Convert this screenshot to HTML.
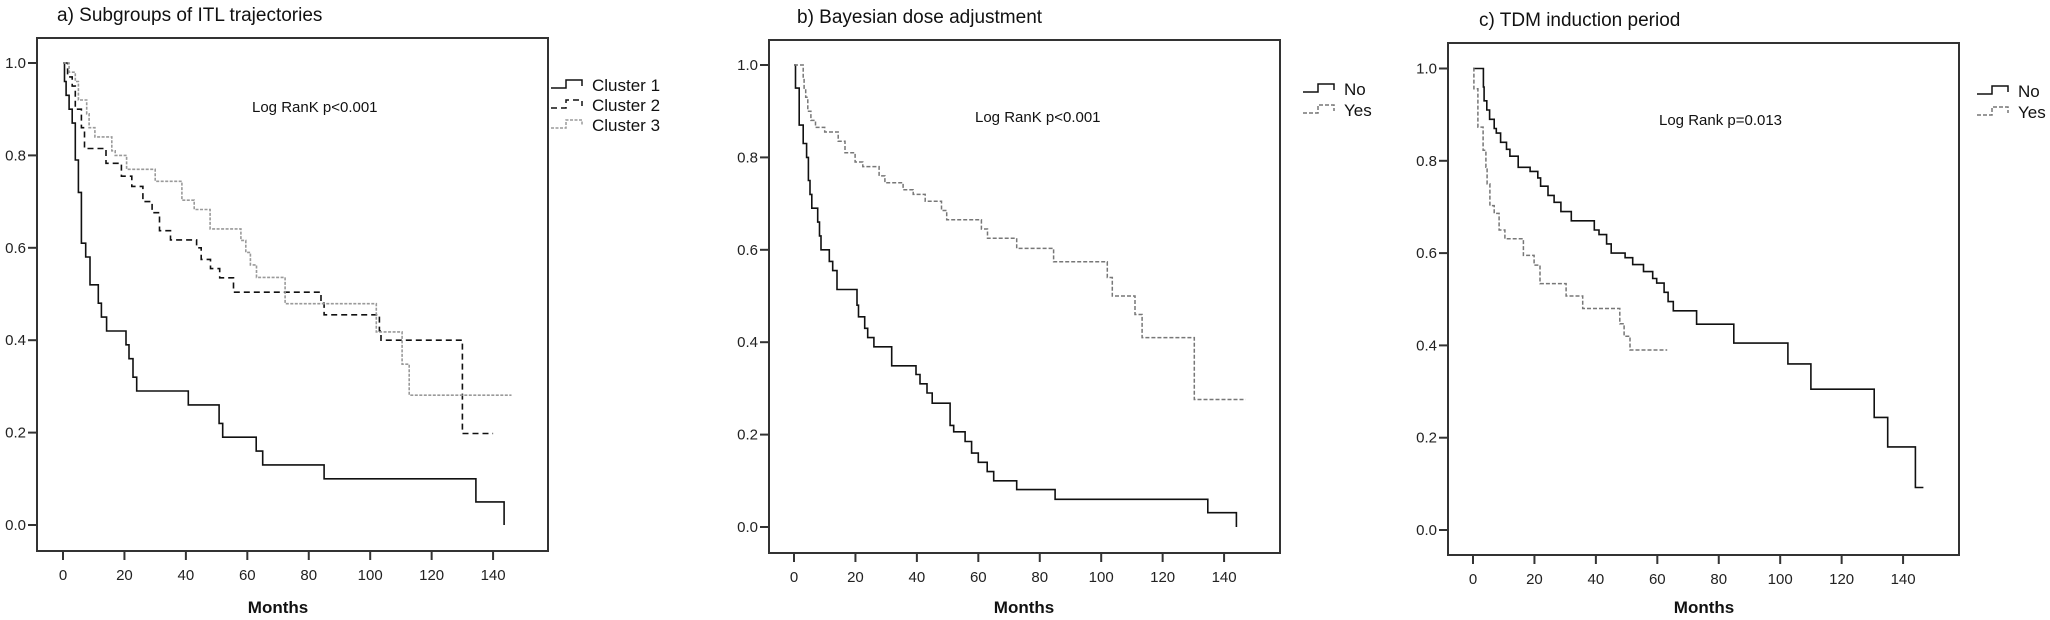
<!DOCTYPE html>
<html><head><meta charset="utf-8"><style>
html,body{margin:0;padding:0;background:#fff;}
svg{display:block;font-family:"Liberation Sans",Arial,sans-serif;}
</style></head><body>
<svg id="fig" width="2050" height="620" viewBox="0 0 2050 620" xmlns="http://www.w3.org/2000/svg"></svg>
<script>
// Panel a data
const aC1Times=[0.5,1,2,3,4,5,6,7.4,8.8,11.5,12.5,14.2,20.5,21.5,22.8,24,40.8,50.8,52,62.9,65,85,134.4,143.6];
const aC1Surv=[0.96,0.93,0.9,0.87,0.79,0.72,0.61,0.58,0.52,0.48,0.45,0.42,0.39,0.36,0.32,0.29,0.26,0.22,0.19,0.16,0.13,0.10,0.05,0.0];
const aC1End=143.6;
const aC2Times=[1.5,3,4,6,7,14,19,22.4,26,29,31.4,35,43.5,45,48,51,55.5,84,85,103,103.5,130];
const aC2Surv=[0.97,0.95,0.90,0.86,0.815,0.783,0.755,0.733,0.70,0.676,0.637,0.617,0.60,0.575,0.555,0.535,0.504,0.48,0.455,0.42,0.40,0.198];
const aC2End=140;
const aC3Times=[2,4,5,7.7,8.5,10.4,15.9,17,20.7,30,38.7,42.7,47.9,57.9,59.5,61,63,72.3,102,110.4,112.7];
const aC3Surv=[0.98,0.96,0.92,0.89,0.86,0.84,0.81,0.80,0.77,0.744,0.703,0.683,0.641,0.616,0.59,0.563,0.536,0.479,0.418,0.348,0.281];
const aC3End=146;
// Panel b data
const bNoTimes=[0.5,1.7,3,4.1,4.7,5.2,5.8,7.7,8.3,8.8,11.5,12.6,14,20.5,21,23,24,26,31.8,39.7,41,43.3,45,50.8,52,55.7,57.8,60,62.9,65,72.5,85,134.7,144];
const bNoSurv=[0.95,0.87,0.83,0.80,0.75,0.72,0.69,0.66,0.63,0.60,0.575,0.555,0.514,0.48,0.455,0.43,0.41,0.39,0.349,0.33,0.31,0.29,0.268,0.22,0.206,0.185,0.16,0.14,0.12,0.10,0.081,0.06,0.031,0.0];
const bNoEnd=144;
const bYesTimes=[3,3.3,3.8,4.5,5.5,7,10,14.4,16.6,19.9,22.4,27.7,29.6,35.5,38.8,42.7,48,49.7,61,63,72.5,84.5,102,103.6,111,113.3,130.3];
const bYesSurv=[0.97,0.95,0.93,0.90,0.88,0.865,0.855,0.835,0.81,0.79,0.78,0.76,0.745,0.73,0.72,0.705,0.685,0.665,0.645,0.625,0.603,0.574,0.54,0.50,0.46,0.41,0.276];
const bYesEnd=147;
// Panel c data
const cNoTimes=[3.4,3.6,4.5,5.4,6.9,7.6,9,10.9,12,14.7,18.6,21.1,22,24.4,26.4,28.6,32,39.5,41,43.5,45,49.5,52,55.5,58.5,59.8,62.2,63.5,65.2,72.8,84.9,102.5,110,130.6,135,144];
const cNoSurv=[0.96,0.93,0.91,0.89,0.87,0.86,0.84,0.825,0.81,0.786,0.777,0.763,0.745,0.725,0.71,0.69,0.67,0.65,0.64,0.62,0.60,0.59,0.575,0.56,0.545,0.535,0.515,0.495,0.475,0.446,0.405,0.36,0.305,0.244,0.18,0.092];
const cNoEnd=146.6;
const cYesTimes=[0.3,1.6,3.3,4.2,4.6,5.5,6.9,8.5,10.4,16.4,19.9,21.8,30.3,35.7,47.8,49.2,51.1];
const cYesSurv=[0.956,0.873,0.823,0.786,0.75,0.703,0.686,0.65,0.631,0.595,0.574,0.534,0.507,0.48,0.447,0.42,0.39];
const cYesEnd=63.2;
const xTickLabels=["0","20","40","60","80","100","120","140"];
const xTickValues=[0,20,40,60,80,100,120,140];
const yTickLabels=["0.0","0.2","0.4","0.6","0.8","1.0"];
const yTickValues=[0,0.2,0.4,0.6,0.8,1.0];

const NS="http://www.w3.org/2000/svg";
const svg=document.getElementById('fig');
function mk(tag,attrs,parent){const e=document.createElementNS(NS,tag);for(const k in attrs)e.setAttribute(k,attrs[k]);(parent||svg).appendChild(e);return e;}

function panel(p){
  const g=mk('g',{});
  
  
  const xs=t=>p.x0+t*3.072;
  const ys=s=>p.y0+(p.y1-p.y0)*s;
  const t=mk('text',{x:p.titleX,y:p.titleY,'font-size':19,fill:'#111'},g);t.textContent=p.title;
  
  
  const box=mk('rect',{x:p.bx0,y:p.by0,width:p.bx1-p.bx0,height:p.by1-p.by0,fill:'none',stroke:'#333','stroke-width':2},g);
  
  
  for(let i=0;i<yTickValues.length;i++){
    const y=ys(yTickValues[i]);
    const tk=mk('line',{x1:p.bx0-9,x2:p.bx0,y1:y,y2:y,stroke:'#333','stroke-width':2},g);
    
    
    const l=mk('text',{x:p.bx0-11,y:y+5,'font-size':15,fill:'#222','text-anchor':'end'},g);l.textContent=yTickLabels[i];
    
    
  }
  for(let i=0;i<xTickValues.length;i++){
    const x=xs(xTickValues[i]);
    const tk=mk('line',{x1:x,x2:x,y1:p.by1,y2:p.by1+9,stroke:'#333','stroke-width':2},g);
    
    
    const l=mk('text',{x:x,y:p.by1+29,'font-size':15,fill:'#222','text-anchor':'middle'},g);l.textContent=xTickLabels[i];
    
    
  }
  const xt=mk('text',{x:p.monthsX,y:613,'font-size':17,'font-weight':'bold',fill:'#111','text-anchor':'middle'},g);xt.textContent='Months';
  
  
  const lr=mk('text',{x:p.lrX,y:p.lrY,'font-size':15,fill:'#111'},g);lr.textContent=p.lr;
  
  
  p.series.forEach(s=>{
    let d='M'+xs(0)+','+ys(1);
    for(let i=0;i<s.times.length;i++){
      d+=' H'+xs(s.times[i]).toFixed(1)+' V'+ys(s.surv[i]).toFixed(1);
    }
    d+=' H'+xs(s.end).toFixed(1);
    const path=mk('path',{d:d,fill:'none',stroke:s.color,'stroke-width':s.w,'stroke-dasharray':s.dash||'none'},g);
    
    
  });
  p.series.forEach((s,i)=>{
    const ly=p.legY+i*p.legGap;
    const lx=p.legX;
    const ic=mk('path',{d:'M'+lx+','+(ly+4)+' H'+(lx+15)+' V'+(ly-4)+' H'+(lx+31)+' V'+(ly+2),fill:'none',stroke:s.color,'stroke-width':1.5,'stroke-dasharray':s.dash||'none'},g);
    
    
    const lt=mk('text',{x:lx+41,y:ly+7,'font-size':17,fill:'#111'},g);lt.textContent=s.label;
    
    
  });
}

panel({id:'a',title:'a) Subgroups of ITL trajectories',titleX:57,titleY:21,bx0:37,bx1:548,by0:38,by1:551,x0:63,y1:63,y0:525,monthsX:278,lr:'Log RanK p<0.001',lrX:252,lrY:112,legX:551,legY:84,legGap:20,
 series:[
  {name:'cluster-1-curve',label:'Cluster 1',times:aC1Times,surv:aC1Surv,end:aC1End,color:'#111',w:1.6},
  {name:'cluster-2-curve',label:'Cluster 2',times:aC2Times,surv:aC2Surv,end:aC2End,color:'#111',w:1.6,dash:'6 4'},
  {name:'cluster-3-curve',label:'Cluster 3',times:aC3Times,surv:aC3Surv,end:aC3End,color:'#9a9a9a',w:1.6,dash:'3 1.5'}]});
panel({id:'b',title:'b) Bayesian dose adjustment',titleX:797,titleY:23,bx0:769,bx1:1280,by0:40,by1:553,x0:794,y1:65,y0:527,monthsX:1024,lr:'Log RanK p<0.001',lrX:975,lrY:122,legX:1303,legY:88,legGap:21,
 series:[
  {name:'no-curve',label:'No',times:bNoTimes,surv:bNoSurv,end:bNoEnd,color:'#111',w:1.6},
  {name:'yes-curve',label:'Yes',times:bYesTimes,surv:bYesSurv,end:bYesEnd,color:'#777',w:1.5,dash:'4 2'}]});
panel({id:'c',title:'c) TDM induction period',titleX:1479,titleY:26,bx0:1448,bx1:1959,by0:43,by1:555,x0:1473,y1:68.5,y0:530,monthsX:1704,lr:'Log Rank p=0.013',lrX:1659,lrY:125,legX:1977,legY:90,legGap:21,
 series:[
  {name:'no-curve',label:'No',times:cNoTimes,surv:cNoSurv,end:cNoEnd,color:'#111',w:1.6},
  {name:'yes-curve',label:'Yes',times:cYesTimes,surv:cYesSurv,end:cYesEnd,color:'#777',w:1.5,dash:'4 2'}]});
</script>
</body></html>
